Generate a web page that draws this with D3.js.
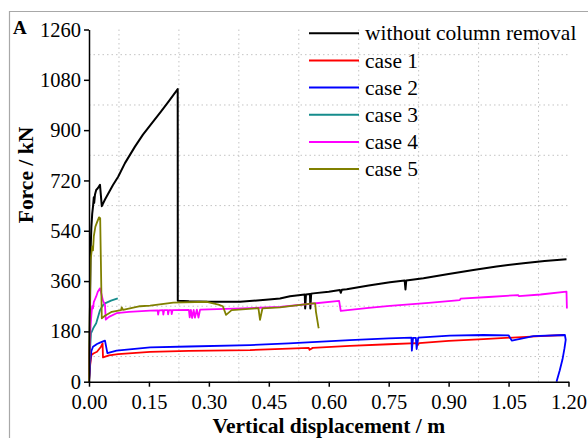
<!DOCTYPE html>
<html>
<head>
<meta charset="utf-8">
<script src="https://cdn.jsdelivr.net/npm/d3@7"></script>
<style>
  html, body { margin: 0; padding: 0; background: #fff; }
  svg { display: block; }
  text { font-family: "Liberation Serif", "Times New Roman", serif; fill: #000; }
</style>
</head>
<body>
<svg id="chart" width="588" height="438"></svg>
<script>
// Force–displacement responses, displacement in m, force in kN
const withoutRemoval = [
  [0,0],[0.002,200],[0.004,470],[0.006,555],[0.008,600],[0.010,626],[0.012,660],[0.013,640],
  [0.015,670],[0.018,686],[0.022,692],[0.0275,704],[0.032,628],[0.040,652],[0.050,678],
  [0.060,704],[0.073,733],[0.090,782],[0.115,841],[0.135,884],[0.157,924],[0.180,966],
  [0.199,1002],[0.222,1047],[0.2222,290],[0.25,288],[0.30,286],
  [0.378,286],[0.45,294],[0.478,298],[0.503,306],[0.540,312],[0.541,262],[0.543,312],
  [0.553,314],[0.554,262],[0.556,315],[0.561,316],[0.60,322],[0.628,328],[0.630,318],
  [0.633,329],[0.645,331],[0.70,344],[0.753,356],[0.790,362],[0.792,330],[0.794,362],
  [0.837,370],[0.90,385],[0.962,400],[1.02,412],[1.087,424],[1.14,432],[1.195,438]
];
const case1 = [
  [0,0],[0.003,60],[0.006,95],[0.011,101],[0.020,107],[0.030,125],[0.034,137],[0.035,87],
  [0.050,94],[0.073,99],[0.153,107],[0.25,110],[0.403,113],[0.50,118],[0.55,121],[0.552,114],
  [0.56,121],[0.653,128],[0.75,134],[0.82,138],[0.823,132],[0.826,138],[0.90,146],[0.987,152],
  [1.06,158],[1.129,163],[1.191,167]
];
const case2 = [
  [0,0],[0.003,70],[0.006,110],[0.010,125],[0.020,135],[0.0275,140],[0.040,147],[0.046,102],
  [0.069,111],[0.153,123],[0.25,126],[0.403,131],[0.50,137],[0.653,149],[0.75,155],[0.807,158],
  [0.808,111],[0.811,157],[0.818,157],[0.820,117],[0.824,158],[0.903,165],[0.987,167],[1.05,166],
  [1.058,147],[1.112,163],[1.191,167],[1.193,150],[1.190,120],[1.185,80],[1.178,40],[1.170,0]
];
const case3 = [
  [0,0],[0.002,100],[0.005,173],[0.012,195],[0.018,209],[0.0275,256],[0.035,274],[0.040,280],
  [0.055,290],[0.072,298]
];
const case4 = [
  [0,0],[0.002,130],[0.004,200],[0.006,240],[0.008,270],[0.010,262],[0.012,285],[0.015,295],
  [0.018,305],[0.022,322],[0.0275,334],[0.030,320],[0.035,290],[0.040,275],[0.042,222],
  [0.050,232],[0.069,245],[0.10,250],[0.153,254],[0.172,255],[0.173,240],[0.175,255],
  [0.185,256],[0.186,240],[0.188,256],[0.197,256],[0.198,241],[0.200,256],[0.206,256],
  [0.207,242],[0.209,256],[0.250,257],[0.252,230],[0.255,257],[0.258,228],[0.262,257],
  [0.265,229],[0.270,258],[0.274,229],[0.278,258],[0.280,258],[0.403,263],[0.478,268],
  [0.55,278],[0.626,289],[0.630,253],[0.70,264],[0.753,271],[0.85,282],[0.928,292],
  [0.930,297],[1.0,303],[1.074,310],[1.076,306],[1.13,312],[1.195,322],[1.196,262]
];
const case5 = [
  [0,0],[0.002,250],[0.004,435],[0.008,483],[0.010,470],[0.012,520],[0.016,555],[0.020,570],
  [0.025,588],[0.028,585],[0.032,227],[0.040,236],[0.057,250],[0.080,256],[0.082,266],
  [0.085,257],[0.128,270],[0.153,272],[0.211,283],[0.295,286],[0.324,276],[0.335,270],
  [0.343,239],[0.357,256],[0.424,263],[0.428,221],[0.434,262],[0.478,266],[0.503,270],
  [0.561,280],[0.566,280],[0.568,250],[0.572,215],[0.574,197],[0.575,191]
];

const seriesNames = ["without column removal", "case 1", "case 2", "case 3", "case 4", "case 5"];
const seriesData = [withoutRemoval, case1, case2, case3, case4, case5];
const seriesColors = ["#000000", "#ff0000", "#0000ff", "#158c8c", "#ff00ff", "#808000"];

const xTicks = [0, 0.15, 0.30, 0.45, 0.60, 0.75, 0.90, 1.05, 1.20];
const yTicks = [0, 180, 360, 540, 720, 900, 1080, 1260];
const xGrid = [0.075, 0.225, 0.375, 0.525, 0.675, 0.825, 0.975, 1.125];
const yGrid = [90, 270, 450, 630, 810, 990, 1170];

const svg = d3.select("#chart");
const x = d3.scaleLinear().domain([0, 1.2]).range([89, 568.5]);
const y = d3.scaleLinear().domain([0, 1260]).range([381.7, 29.5]);

// outer frame
svg.append("path")
  .attr("d", "M9.5,438 L9.5,11.5 L588,11.5")
  .attr("fill", "none").attr("stroke", "#a8a8a8").attr("stroke-width", 1.2);

// dotted grid
const grid = svg.append("g").attr("stroke", "#c4c4c4").attr("stroke-width", 1)
  .attr("stroke-dasharray", "1.5,3");
grid.selectAll(".gx").data(xGrid).join("line")
  .attr("x1", d => x(d)).attr("x2", d => x(d))
  .attr("y1", y(1260)).attr("y2", y(0));
grid.selectAll(".gy").data(yGrid).join("line")
  .attr("x1", x(0)).attr("x2", x(1.2))
  .attr("y1", d => y(d)).attr("y2", d => y(d));

// curves
const line = d3.line().x(d => x(d[0])).y(d => y(d[1]));
svg.append("g").selectAll("path").data(seriesData).join("path")
  .attr("d", line)
  .attr("fill", "none")
  .attr("stroke", (d, i) => seriesColors[i])
  .attr("stroke-width", (d, i) => i === 0 ? 2 : 1.8)
  .attr("stroke-linejoin", "round");

// axes
const xAxis = svg.append("g").attr("transform", `translate(0,${y(0)})`)
  .call(d3.axisBottom(x).tickValues(xTicks).tickFormat(d3.format(".2f"))
    .tickSize(5).tickSizeOuter(0).tickPadding(5));
const yAxis = svg.append("g").attr("transform", `translate(${x(0)},0)`)
  .call(d3.axisLeft(y).tickValues(yTicks).tickFormat(d3.format("d"))
    .tickSize(5).tickSizeOuter(0).tickPadding(3));
[xAxis, yAxis].forEach(a => {
  a.selectAll("path, line").attr("stroke", "#000").attr("stroke-width", 1.5);
  a.selectAll("text").style("font-family", "Liberation Serif, serif")
    .style("font-size", "20.5px").attr("fill", "#000");
});
xAxis.selectAll("text").attr("dy", "0.85em");

// axis titles
svg.append("text")
  .attr("x", (x(0) + x(1.2)) / 2).attr("y", 432.5)
  .attr("text-anchor", "middle").attr("font-weight", "bold").attr("font-size", 21.5)
  .text("Vertical displacement / m");
svg.append("text")
  .attr("transform", "translate(33,175) rotate(-90)")
  .attr("text-anchor", "middle").attr("font-weight", "bold").attr("font-size", 21.5)
  .text("Force / kN");

// panel letter
svg.append("text").attr("x", 13).attr("y", 33.5)
  .attr("font-weight", "bold").attr("font-size", 19).text("A");

// legend
const legend = svg.append("g");
const rows = legend.selectAll("g").data(seriesNames).join("g")
  .attr("transform", (d, i) => `translate(0,${33.3 + i * 27.15})`);
rows.append("line").attr("x1", 309).attr("x2", 359).attr("y1", 0).attr("y2", 0)
  .attr("stroke", (d, i) => seriesColors[i]).attr("stroke-width", 2);
rows.append("text").attr("x", 365).attr("y", 0).attr("dy", "0.33em")
  .attr("font-size", 21.5).text(d => d);
</script>
</body>
</html>
